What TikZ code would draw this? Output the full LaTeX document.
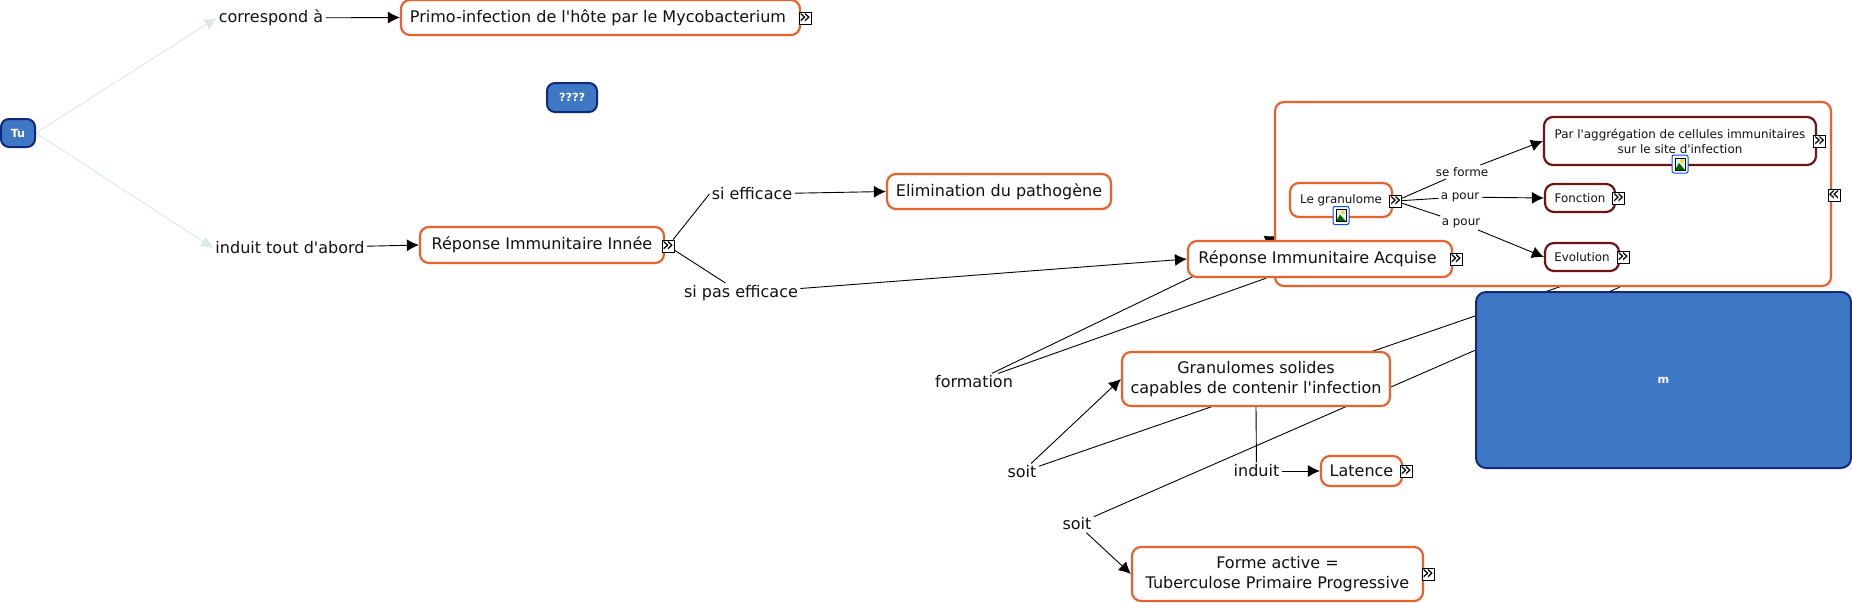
\documentclass[tikz,border=0pt]{standalone}
\usepackage{fontspec}
\setmainfont{DejaVu Sans}[Ligatures=TeXOff]
\usetikzlibrary{arrows.meta,backgrounds}
\definecolor{borange}{HTML}{E8622E}
\definecolor{bdarkred}{HTML}{6E1414}
\definecolor{nodeblue}{HTML}{3E78C4}
\definecolor{edgeblue}{HTML}{10287E}
\definecolor{paleline}{HTML}{D8E9EC}
\definecolor{textdark}{HTML}{111111}
\newcommand{\chev}[1]{\makebox[0pt]{\raisebox{-2.7pt}[0pt][0pt]{#1}}}
\begin{document}
\begin{tikzpicture}[x=0.5pt,y=-0.5pt,>=Latex,
  cpt/.style={rounded corners=4.5pt,draw=borange,fill=white,line width=1.1pt,align=center,
    inner sep=0pt,text=textdark,font=\fontsize{8}{9.6}\selectfont},
  sub/.style={cpt,font=\fontsize{5.95}{7.4}\selectfont},
  subd/.style={sub,draw=bdarkred},
  blue/.style={rounded corners=4pt,draw=edgeblue,fill=nodeblue,line width=1pt,text=white,
    inner sep=0pt,font=\fontsize{5.6}{6.5}\selectfont\bfseries},
  lbl/.style={inner sep=1pt,text=textdark,font=\fontsize{8}{9}\selectfont},
  sublbl/.style={inner sep=1pt,fill=white,text=textdark,font=\fontsize{5.95}{7}\selectfont},
  xpd/.style={draw=black,fill=white,line width=0.5pt,minimum size=6pt,inner sep=0pt,
    font=\fontsize{10}{10}\selectfont},
  a/.style={-{Latex[length=6pt,width=6pt]},line width=0.45pt,black},
  b/.style={line width=0.45pt,black},
  p/.style={-{Latex[length=6pt,width=6pt]},line width=0.45pt,paleline},
  pics/imgicon/.style={code={
    \draw[rounded corners=1pt,draw=blue!70!cyan,fill=white,line width=0.5pt] (-8,-9) rectangle (8,9);
    \fill[cyan!12] (-5,-6) rectangle (5,6);
    \fill[yellow!80!orange] (2,-3) circle (2);
    \fill[green!40!black] (-5,6) -- (-1,-1) -- (5,6) -- cycle;
    \draw[black,line width=0.3pt] (-5,-6) rectangle (5,6);}}]
\useasboundingbox (0,0) rectangle (1852,602);
% top level
\node[blue,minimum width=17pt,minimum height=14pt] (tu) at (18,133) {Tu};
\node[blue,minimum width=25pt,minimum height=14.5pt] (q) at (572,97.5) {????};
\node[lbl] (cor) at (271,18) {correspond à};
\node[lbl] (indab) at (290,248) {induit tout d'abord};
\node[cpt,minimum width=199.5pt,minimum height=17.5pt] (primo) at (600.5,17.5) {\raisebox{-0.6pt}{Primo-infection de l'hôte par le Mycobacterium\ }};
\node[xpd] (xprimo) at (805,18.5) {\chev{»}};
\node[cpt,minimum width=122pt,minimum height=18pt] (inn) at (542,245) {Réponse Immunitaire Innée};
\node[xpd] (xinn) at (668,246) {\chev{»}};
\node[lbl] (sieff) at (752,194) {si efficace};
\node[lbl] (sipas) at (741,293) {si pas efficace};
\node[cpt,minimum width=112pt,minimum height=17.5pt] (elim) at (999,191.5) {\raisebox{-0.6pt}{Elimination du pathogène}};
% grand cadre
\node[cpt,fill=white,minimum width=278pt,minimum height=92pt] (cadre) at (1553,194) {};
\node[xpd] (xcadre) at (1834,195) {\chev{«}};
\node[sub,minimum width=51pt,minimum height=17pt] (gran) at (1341,200) {\raisebox{1.5pt}{Le granulome}};
\node[subd,minimum width=136pt,minimum height=24pt] (agg) at (1680,141) {Par l'aggrégation de cellules immunitaires\\sur le site d'infection};
\node[subd,minimum width=35pt,minimum height=14pt] (fonc) at (1580,198) {Fonction};
\node[subd,minimum width=37pt,minimum height=14pt] (evol) at (1582,257) {Evolution};
\pic at (1341,215.5) {imgicon};
\pic at (1680,164) {imgicon};
\node[xpd] (xgran) at (1395.5,201) {\chev{»}};
\node[xpd] (xagg) at (1819.5,141.5) {\chev{»}};
\node[xpd] (xfonc) at (1618.5,198.5) {\chev{»}};
\node[xpd] (xevol) at (1623,257.5) {\chev{»}};
\node[sublbl] (sef) at (1462,172) {se forme};
\node[sublbl] (ap1) at (1460,197) {a pour};
\node[sublbl] (ap2) at (1461,223) {a pour};
\draw[b] (xgran)--(sef); \draw[a] (sef)--(agg.west);
\draw[b] (xgran)--(ap1); \draw[a] (ap1)--(fonc.west);
\draw[b] (xgran)--(ap2); \draw[a] (ap2)--(evol.west);
% niveau acquis
\node[cpt,minimum width=132pt,minimum height=18pt] (acq) at (1320,259) {Réponse Immunitaire Acquise\ };
\node[xpd] (xacq) at (1456,259.5) {\chev{»}};
\node[blue,minimum width=187.5pt,minimum height=88pt,rounded corners=5pt] (m) at (1663.5,380) {m};
\node[lbl] (form) at (974,382) {formation};
\node[cpt,minimum width=134pt,minimum height=27pt] (gsol) at (1256,379) {Granulomes solides\\capables de contenir l'infection};
\node[lbl] (soita) at (1022,472) {soit};
\node[lbl] (indu) at (1256.5,471) {induit};
\node[cpt,minimum width=40.5pt,minimum height=15pt] (lat) at (1361.5,471) {Latence};
\node[xpd] (xlat) at (1406,471.5) {\chev{»}};
\node[lbl] (soitb) at (1077,524) {soit};
\node[cpt,minimum width=145.5pt,minimum height=27pt] (fact) at (1277.5,574) {Forme active =\\Tuberculose Primaire Progressive};
\node[xpd] (xfact) at (1428,574.5) {\chev{»}};
\coordinate (ca) at (1277,236);
\coordinate (cb) at (1562,286);
\coordinate (cc) at (1620,287);
\begin{scope}[on background layer]
\draw[p] (tu.east)--(cor.west);
\draw[p] (tu.east)--(indab.west);
\draw[a] (cor)--(primo.west);
\draw[a] (indab)--(inn.west);
\draw[b] (xinn)--(sieff.west);
\draw[b] (xinn)--(sipas);
\draw[a] (sieff)--(elim.west);
\draw[a] (sipas)--(acq.west);
\draw[a] (form)--(ca);
\draw[b] (form)--(acq);
\draw[a] (soita)--(gsol.west);
\draw[b] (soita)--(cb);
\draw[b] (soitb)--(cc);
\draw[a] (soitb)--(fact.west);
\draw[b] (gsol.south)--(indu);
\draw[a] (indu)--(lat.west);
\end{scope}
\end{tikzpicture}
\end{document}
